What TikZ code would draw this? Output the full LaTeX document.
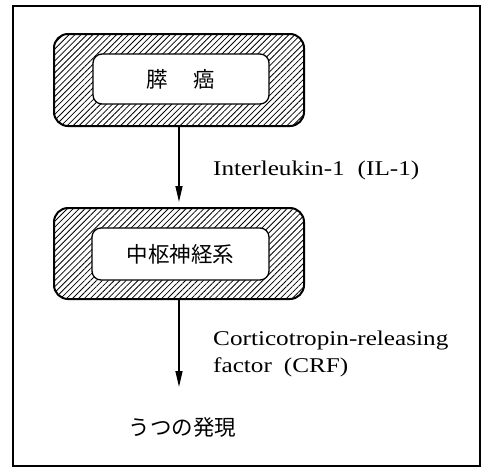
\documentclass[tikz,border=0pt]{standalone}
\usepackage{fontspec}
\setmainfont[FakeStretch=1.2]{Liberation Serif}
\newfontfamily\jp{Noto Sans CJK JP}
\usetikzlibrary{arrows.meta,patterns.meta}
\tikzset{
  hatchbox/.style={draw, line width=2pt, rounded corners=14pt, inner sep=0pt,
    pattern={Lines[angle=45,distance=4.2pt,line width=0.8pt]}},
  corebox/.style={draw, line width=1.3pt, fill=white, rounded corners=9pt, inner sep=0pt,
    font=\jp\fontsize{21.5pt}{24pt}\selectfont},
  jtext/.style={inner sep=0pt, font=\jp\fontsize{21.5pt}{24pt}\selectfont},
  lbl/.style={inner sep=0pt, align=left, font=\fontsize{21pt}{27pt}\selectfont},
  arr/.style={line width=1.4pt, -{Triangle[length=16pt,width=7pt]}}
}
\begin{document}
\begin{tikzpicture}[x=1pt,y=-1pt]
\useasboundingbox (0,0) rectangle (485,472);
\fill[white] (0,0) rectangle (485,472);
\node[draw, line width=1.3pt, minimum width=467pt, minimum height=460pt, inner sep=0pt] (frame) at (246.5,236) {};
% box 1
\node[hatchbox, minimum width=250pt, minimum height=92pt] (b1) at (179,80) {};
\node[corebox, minimum width=176pt, minimum height=50pt] (c1) at (181,79) {膵\hspace{25.5pt}癌};
% box 2
\node[hatchbox, minimum width=250pt, minimum height=91pt] (b2) at (179,253.5) {};
\node[corebox, minimum width=177pt, minimum height=52pt] (c2) at (180.5,254) {中枢神経系};
% result
\node[jtext] (r) at (182.5,427) {うつの発現};
\coordinate (t2) at (179,387);
% arrows
\draw[arr, shorten >=5pt] (b1.south) -- (b2.north);
\draw[arr] (b2.south) -- (t2);
% labels
\node[lbl, anchor=base west] (l1) at (213,175) {Interleukin-1\hspace{13pt}(IL-1)};
\node[lbl, anchor=west] (l2) at (213,354) {Corticotropin-releasing\\factor\hspace{12pt}(CRF)};
\end{tikzpicture}
\end{document}
